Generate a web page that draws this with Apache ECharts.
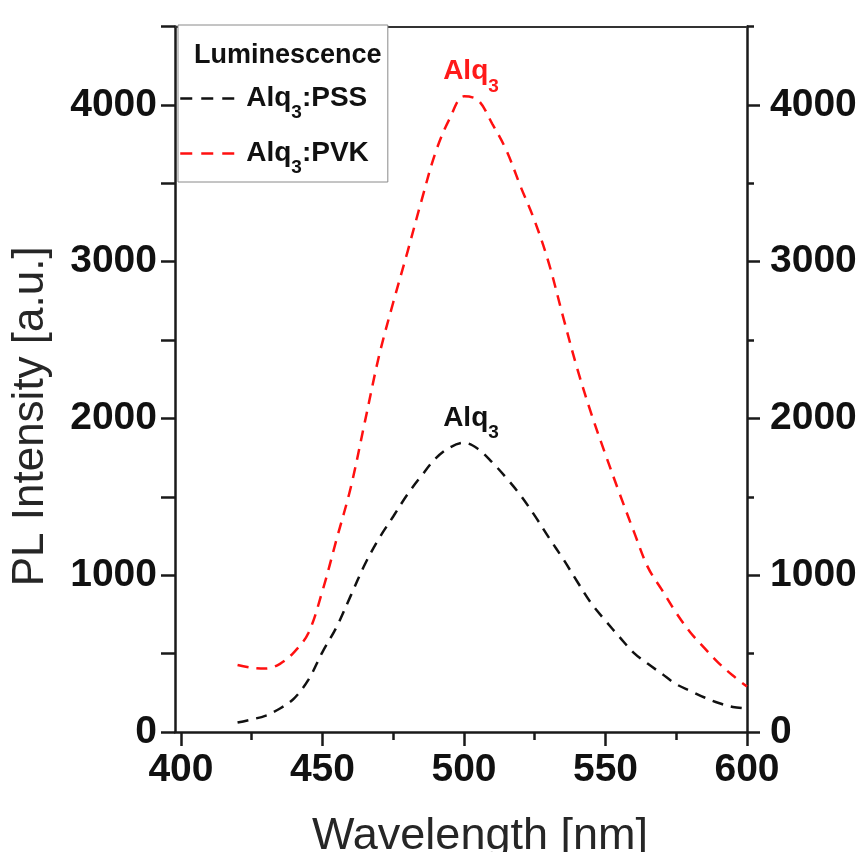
<!DOCTYPE html>
<html><head><meta charset="utf-8">
<script src="https://cdn.jsdelivr.net/npm/echarts@6/dist/echarts.min.js"></script>
<style>html,body{margin:0;padding:0;background:#fff}#c{width:859px;height:852px}</style>
</head><body><div id="c"></div>
<script>
// ---- data ----
const wavelengths = [420,425,430,435,440,445,450,455,460,465,470,475,480,485,490,495,500,505,510,515,520,525,530,535,540,545,550,555,560,565,570,575,580,585,590,595,600];
const pssValues   = [60,80,105,150,215,332,510,670,870,1070,1235,1375,1515,1635,1745,1815,1845,1805,1720,1620,1510,1380,1240,1105,960,820,710,605,505,435,370,305,262,220,185,160,150];
const pvkValues   = [427,410,405,435,510,630,900,1230,1560,1980,2400,2740,3060,3390,3700,3915,4055,4030,3880,3710,3480,3260,2990,2650,2320,2030,1770,1520,1280,1050,905,760,635,535,440,360,290];
const xTickLabels = [400,450,500,550,600];
const xMinorTicks = [425,475,525,575];
const yMajorTicks = [0,1000,2000,3000,4000];
const yMinorTicks = [500,1500,2500,3500,4500];
const seriesNames = ['Alq3:PSS','Alq3:PVK'];
const legendTitle = 'Luminescence';
const peakLabel = 'Alq3';

const FONT = "'Liberation Sans', Arial, sans-serif";
const AX = '#1a1a1a';
const DASH = [11,8];
const pair = vals => wavelengths.map((w,i)=>[w, vals[i]]);
const sub = s => s.replace(/(\d)/, '}{s|$1}{a|');

function peakMark(color){
  return {
    symbol:'circle', symbolSize:0, silent:true,
    data:[{type:'max'}],
    label:{show:true, position:'top', distance:6, offset:[7,-3],
      formatter:()=> '{a|' + sub(peakLabel) + '}',
      rich:{
        a:{fontFamily:FONT, fontWeight:'bold', fontSize:28, color:color, lineHeight:32},
        s:{fontFamily:FONT, fontWeight:'bold', fontSize:19, color:color, lineHeight:20, padding:[30,0,0,0]}
      }}
  };
}

const chart = echarts.init(document.getElementById('c'));
chart.setOption({
  animation:false,
  backgroundColor:'#fff',
  grid:{left:175, right:112, top:26.6, bottom:120, containLabel:false, outerBoundsMode:'none'},
  title:{text:legendTitle, left:189, top:37,
    textStyle:{fontFamily:FONT, fontWeight:'bold', fontSize:27, color:'#111'}},
  legend:{
    left:178, top:25, orient:'vertical', align:'left',
    data:seriesNames,
    itemWidth:54, itemHeight:14, itemGap:8,
    padding:[50,19,5,1],
    borderColor:'#8a8a8a', borderWidth:1, backgroundColor:'#fff',
    itemStyle:{opacity:0},
    lineStyle:{width:2.5, type:[12,9]},
    formatter: n => '{b|' + sub(n) + '}',
    textStyle:{
      rich:{
        b:{fontFamily:FONT, fontWeight:'bold', fontSize:28, color:'#111', lineHeight:30, padding:[0,0,0,7]},
        a:{fontFamily:FONT, fontWeight:'bold', fontSize:28, color:'#111', lineHeight:30},
        s:{fontFamily:FONT, fontWeight:'bold', fontSize:19, color:'#111', lineHeight:20, padding:[28,0,0,0]}
      }
    }
  },
  xAxis:[
    {type:'value', position:'bottom', min:397.9, max:600,
      name:'Wavelength [nm]', nameLocation:'middle', nameGap:82,
      nameTextStyle:{fontFamily:FONT, fontSize:45, color:'#262626', padding:[0,0,0,38]},
      axisLine:{show:true, onZero:false, lineStyle:{color:AX, width:2.5}},
      axisTick:{show:true, inside:false, length:14, customValues:xTickLabels, lineStyle:{color:AX, width:2.5}},
      axisLabel:{show:true, customValues:xTickLabels, margin:19, fontFamily:FONT, fontWeight:'bold', fontSize:39, color:'#111',
        formatter:v => String(v)},
      splitLine:{show:false}},
    {type:'value', position:'bottom', min:397.9, max:600,
      axisLine:{show:false},
      axisTick:{show:true, inside:false, length:8, customValues:xMinorTicks, lineStyle:{color:AX, width:2.5}},
      axisLabel:{show:false}, splitLine:{show:false}},
    {type:'value', position:'top', min:397.9, max:600,
      axisLine:{show:true, onZero:false, lineStyle:{color:'#333', width:2}},
      axisTick:{show:false}, axisLabel:{show:false}, splitLine:{show:false}}
  ],
  yAxis:[
    {type:'value', position:'left', min:0, max:4500, interval:500,
      name:'PL Intensity [a.u.]', nameLocation:'middle', nameGap:122, nameRotate:90,
      nameTextStyle:{fontFamily:FONT, fontSize:44, color:'#262626', padding:[0,74,0,0]},
      axisLine:{show:true, onZero:false, lineStyle:{color:AX, width:2.5}},
      axisTick:{show:true, inside:false, length:14, lineStyle:{color:AX, width:2.5}},
      axisLabel:{show:true, margin:18, fontFamily:FONT, fontWeight:'bold', fontSize:39, color:'#111',
        formatter:v => (v % 1000 === 0 ? String(v) : '')},
      splitLine:{show:false}},
    {type:'value', position:'right', min:0, max:4500,
      axisLine:{show:true, onZero:false, lineStyle:{color:AX, width:2.5}},
      axisTick:{show:true, inside:false, length:13, customValues:yMajorTicks, lineStyle:{color:AX, width:2.5}},
      axisLabel:{show:true, customValues:yMajorTicks, margin:23, fontFamily:FONT, fontWeight:'bold', fontSize:39, color:'#111',
        formatter:v => String(v)},
      splitLine:{show:false}},
    {type:'value', position:'right', min:0, max:4500,
      axisLine:{show:false},
      axisTick:{show:true, inside:false, length:7, customValues:yMinorTicks, lineStyle:{color:AX, width:2.5}},
      axisLabel:{show:false}, splitLine:{show:false}}
  ],
  series:[
    {name:seriesNames[0], type:'line', xAxisIndex:0, yAxisIndex:0, data:pair(pssValues),
      symbol:'none', smooth:0.35, color:'#111',
      lineStyle:{color:'#111', width:2.5, type:DASH},
      markPoint:peakMark('#111')},
    {name:seriesNames[1], type:'line', xAxisIndex:0, yAxisIndex:0, data:pair(pvkValues),
      symbol:'none', smooth:0.35, color:'#ff1010',
      lineStyle:{color:'#ff1010', width:2.5, type:DASH},
      markPoint:peakMark('#ff1a1a')}
  ]
});
</script>
</body></html>
